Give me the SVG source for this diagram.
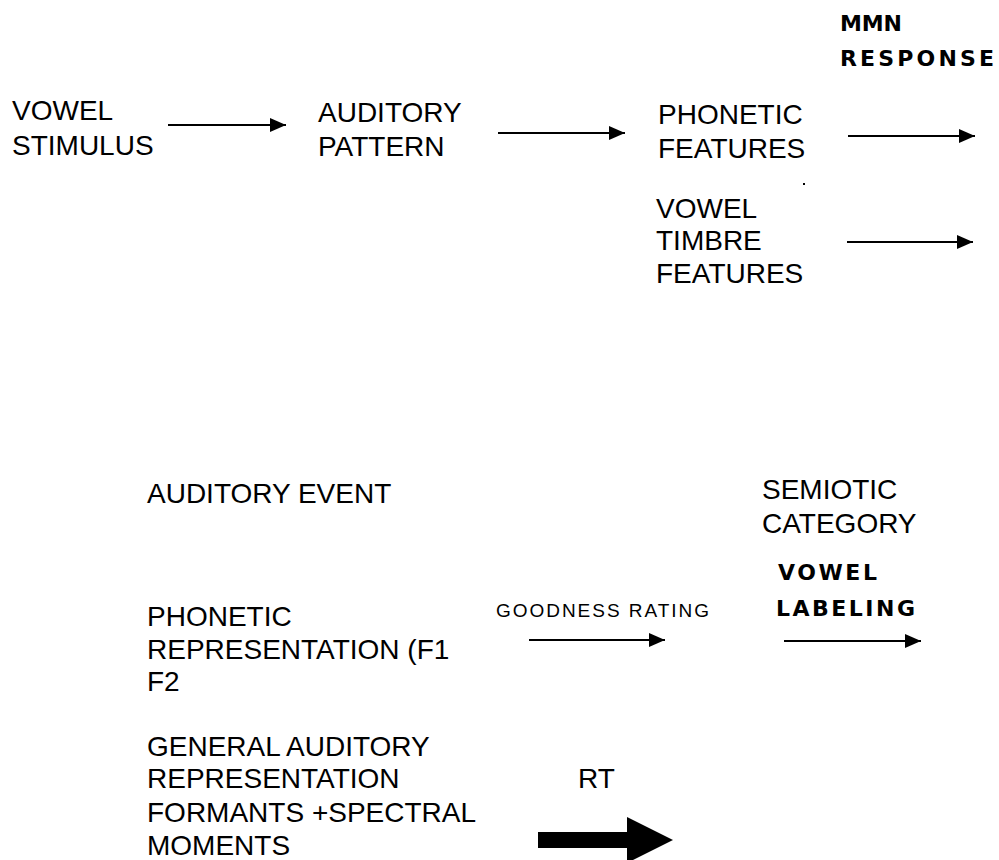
<svg xmlns="http://www.w3.org/2000/svg" width="999" height="860" viewBox="0 0 999 860">
<style>
text{font-family:"Liberation Sans",Arial,sans-serif;fill:#000}
.t{font-size:28px}
.b{font-family:"DejaVu Sans","Liberation Sans",sans-serif;font-size:22px;font-weight:bold}
.s{font-size:19px}
.c{stroke:#000;stroke-width:2;fill:none}
</style>
<defs>
<marker id="ah" markerUnits="userSpaceOnUse" markerWidth="16" markerHeight="14" refX="16" refY="7" orient="auto">
<path d="M0,0 L16,7 L0,14 z" fill="#000"/>
</marker>
</defs>
<rect width="999" height="860" fill="#fff"/>
<g id="mmn-response"><text class="b" x="840" y="31" textLength="62" lengthAdjust="spacing">MMN</text><text class="b" x="840" y="66" textLength="154" lengthAdjust="spacing">RESPONSE</text></g>
<g id="vowel-stimulus"><text class="t" x="12" y="120">VOWEL</text><text class="t" x="12" y="155">STIMULUS</text></g>
<g id="auditory-pattern"><text class="t" x="318" y="122">AUDITORY</text><text class="t" x="318" y="156">PATTERN</text></g>
<g id="phonetic-features"><text class="t" x="658" y="124">PHONETIC</text><text class="t" x="658" y="158">FEATURES</text></g>
<g id="dot"><rect x="803" y="183" width="2" height="2" fill="#000"/></g>
<g id="vowel-timbre"><text class="t" x="656" y="218">VOWEL</text><text class="t" x="656" y="250">TIMBRE</text><text class="t" x="656" y="283">FEATURES</text></g>
<g id="auditory-event"><text class="t" x="147" y="503">AUDITORY EVENT</text></g>
<g id="semiotic-category"><text class="t" x="762" y="499">SEMIOTIC</text><text class="t" x="762" y="533">CATEGORY</text></g>
<g id="vowel-labeling"><text class="b" x="778" y="580" textLength="99" lengthAdjust="spacing">VOWEL</text><text class="b" x="776" y="616" textLength="139" lengthAdjust="spacing">LABELING</text></g>
<g id="goodness-rating"><text class="s" x="496" y="617" textLength="213" lengthAdjust="spacing">GOODNESS RATING</text></g>
<g id="phonetic-representation"><text class="t" x="147" y="626">PHONETIC</text><text class="t" x="147" y="659">REPRESENTATION (F1</text><text class="t" x="147" y="691">F2</text></g>
<g id="general-auditory"><text class="t" x="147" y="756">GENERAL AUDITORY</text><text class="t" x="147" y="788">REPRESENTATION</text><text class="t" x="147" y="822">FORMANTS +SPECTRAL</text><text class="t" x="147" y="855">MOMENTS</text></g>
<g id="rt"><text class="t" x="578" y="788">RT</text></g>
<g id="connectors">
<line class="c" x1="168" y1="125" x2="286" y2="125" marker-end="url(#ah)"/>
<line class="c" x1="498" y1="133" x2="625" y2="133" marker-end="url(#ah)"/>
<line class="c" x1="848" y1="136" x2="975" y2="136" marker-end="url(#ah)"/>
<line class="c" x1="847" y1="242" x2="973" y2="242" marker-end="url(#ah)"/>
<line class="c" x1="529" y1="640" x2="665" y2="640" marker-end="url(#ah)"/>
<line class="c" x1="784" y1="641" x2="921" y2="641" marker-end="url(#ah)"/>
<polygon points="538,832 627,832 627,817 673,840 627,863 627,848 538,848" fill="#000"/>
</g>
</svg>
